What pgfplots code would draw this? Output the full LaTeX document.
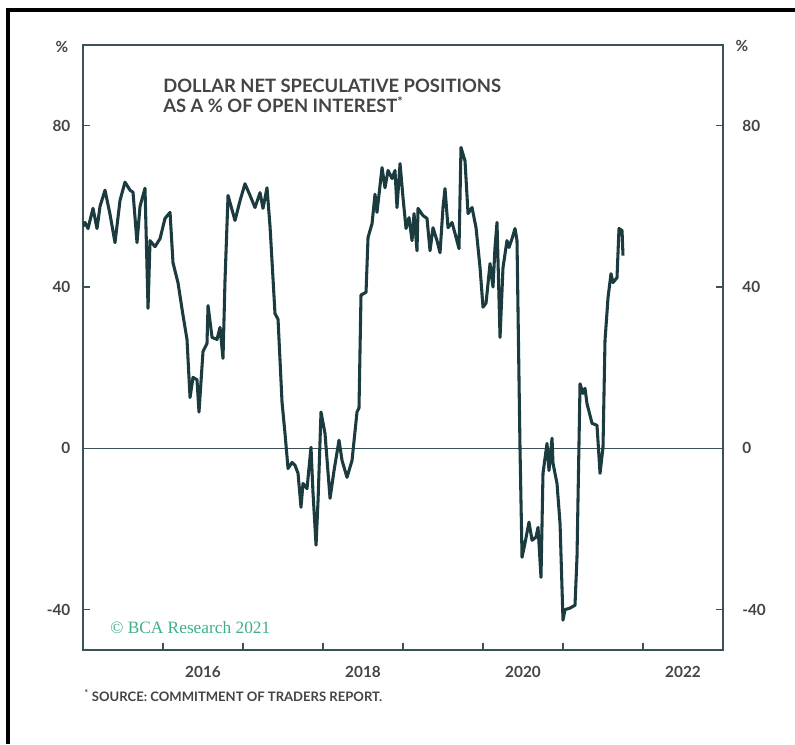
\documentclass[border=0pt]{standalone}
\usepackage{fontspec}
\setmainfont{Lato}
\newfontfamily\wmfont{Liberation Serif}
\usepackage{pgfplots}
\pgfplotsset{compat=1.18}
\definecolor{linec}{HTML}{1B3B3F}
\definecolor{axc}{HTML}{3A5257}
\definecolor{txt}{HTML}{444444}
\definecolor{wm}{HTML}{3FAE8E}

\pgfplotstableread{
yr val
2015.000 55
2015.025 56
2015.063 54.5
2015.125 59.5
2015.175 54.5
2015.213 60
2015.275 64
2015.338 58
2015.400 51
2015.463 61.5
2015.525 66
2015.588 64
2015.625 63.5
2015.675 51
2015.713 60
2015.775 64.5
2015.813 34.7
2015.838 51.5
2015.900 50
2015.963 52
2016.025 57
2016.088 58.5
2016.125 46
2016.188 41
2016.250 33
2016.300 27
2016.338 12.6
2016.375 17.6
2016.425 17
2016.450 9
2016.500 24
2016.550 26
2016.563 35.4
2016.613 27.5
2016.675 27
2016.713 30
2016.750 22.3
2016.775 41.6
2016.813 62.7
2016.900 56.5
2016.963 61.4
2017.025 65.6
2017.088 62.7
2017.150 59.7
2017.213 63.4
2017.250 59.5
2017.300 64.6
2017.338 55
2017.400 33.4
2017.438 32
2017.488 11.4
2017.525 3.7
2017.563 -5
2017.613 -3.5
2017.650 -4.2
2017.688 -6.2
2017.725 -14.6
2017.750 -8.7
2017.800 -10
2017.850 0.25
2017.875 -11
2017.913 -24
2017.938 -13
2017.975 9
2018.025 3.7
2018.088 -12.4
2018.138 -5.5
2018.200 2
2018.238 -3
2018.300 -7.2
2018.363 -3
2018.425 9
2018.450 10
2018.475 38
2018.538 38.7
2018.563 52.3
2018.613 55.7
2018.650 63
2018.675 58.5
2018.738 69.6
2018.775 64.6
2018.813 68.9
2018.863 66.9
2018.900 68.9
2018.925 59.7
2018.963 70.6
2019.000 62.2
2019.038 54.5
2019.075 57.2
2019.113 51.5
2019.138 58.2
2019.175 49
2019.188 59.5
2019.250 57.7
2019.300 57
2019.338 49
2019.375 54.7
2019.425 51.5
2019.463 48.5
2019.500 59.7
2019.525 64.4
2019.563 54.7
2019.613 56
2019.650 53.3
2019.700 49.5
2019.725 74.6
2019.775 71.3
2019.813 58.2
2019.863 59.7
2019.913 54.7
2019.963 44.8
2020.000 35
2020.038 36
2020.088 45.8
2020.125 40
2020.150 49.8
2020.175 56
2020.213 27.5
2020.250 44.8
2020.300 51.5
2020.325 49.8
2020.363 52
2020.400 54.5
2020.425 51.5
2020.463 -0.5
2020.488 -27
2020.525 -23.5
2020.575 -18.3
2020.613 -22.8
2020.663 -22
2020.688 -19.6
2020.725 -32
2020.750 -6.2
2020.800 1.2
2020.825 -5.5
2020.863 2.5
2020.875 -3.7
2020.925 -8.7
2020.963 -18.6
2021.000 -42.6
2021.025 -40
2021.088 -39.6
2021.150 -38.9
2021.175 -27
2021.213 16
2021.250 13.6
2021.275 14.9
2021.300 11.1
2021.363 6.2
2021.425 5.7
2021.463 -6.2
2021.500 0.25
2021.525 26.7
2021.563 37.4
2021.600 43.3
2021.625 41.1
2021.675 42.3
2021.700 54.5
2021.738 54
2021.750 47.8
}\dollardata

\pgfplotsset{
  basestyle/.style={
    at={(62.25pt,70.5pt)}, anchor=south west,
    width=480pt, height=453.75pt, scale only axis,
    xmin=2015, xmax=2023, ymin=-50, ymax=100,
    tick align=inside,
    major tick length=5pt,
    ytick={-40,0,40,80},
    tick label style={font=\fontsize{11.5}{13}\selectfont\bfseries, text=txt},
    /pgf/number format/assume math mode=true,
    /pgf/number format/1000 sep={},
  }
}

\begin{document}
\begin{tikzpicture}
\begin{scope}[x=0.75pt,y=0.75pt]
\path[use as bounding box] (0,0) rectangle (795,744);
\draw[line width=2.4pt, black] (8,0) -- (8,734) -- (795,734);
\end{scope}

\begin{axis}[basestyle,
  axis line style={axc, line width=1.1pt},
  every tick/.style={axc, line width=1.1pt},
  xtick={2016,2017,2018,2019,2020,2021,2022},
  xticklabels={},
  xtick pos=left,
  extra x ticks={2016.5,2018.5,2020.5,2022.5},
  extra x tick labels={2016,2018,2020,2022},
  extra x tick style={major tick length=0pt},
  ytick pos=both,
  yticklabel pos=left,
  xticklabel style={yshift=-9pt},
  yticklabel style={xshift=-6pt},
]
\addplot[axc, line width=1.1pt, forget plot] coordinates {(2015,0) (2023,0)};
\addplot[linec, line width=2.3pt, line join=round] table[x=yr, y=val] {\dollardata};
\end{axis}

\begin{axis}[basestyle,
  axis x line=none,
  axis y line*=right,
  axis line style={draw=none},
  major tick length=0pt,
  yticklabel pos=right,
  yticklabel style={xshift=11pt},
]
\end{axis}

\begin{scope}[x=0.75pt,y=0.75pt]
\node[font=\fontsize{11.5}{13}\selectfont\bfseries, text=txt] at (62,697) {\%};
\node[font=\fontsize{11.5}{13}\selectfont\bfseries, text=txt] at (742,698) {\%};
\node[anchor=base west, inner sep=0, font=\fontsize{13.8}{16}\selectfont\bfseries, text=txt] at (163,651) {DOLLAR NET SPECULATIVE POSITIONS};
\node[anchor=base west, inner sep=0, font=\fontsize{13.8}{16}\selectfont\bfseries, text=txt] at (163,631) {AS A \% OF OPEN INTEREST\textsuperscript{*}};
\node[anchor=base west, inner sep=0, font=\wmfont\fontsize{13}{15}\selectfont, text=wm] at (110,111) {© BCA Research 2021};
\node[anchor=base west, inner sep=0, font=\fontsize{9.8}{11}\selectfont\bfseries, text=txt] at (84,43) {\textsuperscript{*} SOURCE: COMMITMENT OF TRADERS REPORT.};
\end{scope}
\end{tikzpicture}
\end{document}
